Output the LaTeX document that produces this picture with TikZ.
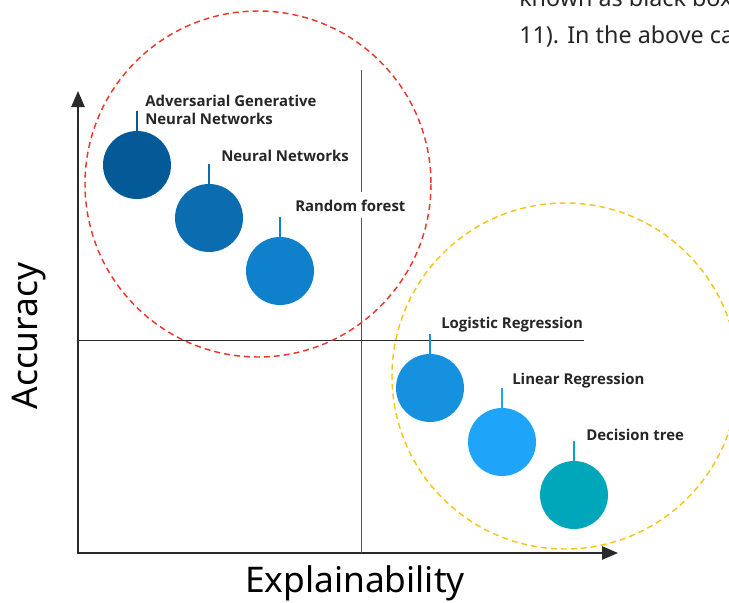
\documentclass[tikz,border=0pt]{standalone}
\usepackage{fontspec}
\setmainfont{Noto Sans}
\newfontfamily\labelfont{Open Sans}
\usetikzlibrary{arrows.meta}

\definecolor{ModelA}{HTML}{045A96}
\definecolor{ModelB}{HTML}{0B6CB0}
\definecolor{ModelC}{HTML}{0F80CC}
\definecolor{ModelD}{HTML}{1691E0}
\definecolor{ModelE}{HTML}{1EA4F8}
\definecolor{ModelF}{HTML}{00A6BA}
\definecolor{GroupRed}{HTML}{E8382B}
\definecolor{GroupYellow}{HTML}{F5C518}
\definecolor{AxisGray}{HTML}{2A2A2A}
\definecolor{SplitGray}{HTML}{555555}

\tikzset{
	bubble/.style={circle, minimum size=51pt, inner sep=0pt},
	stem/.style={line width=1.4pt},
	modellabel/.style={anchor=base west, inner sep=0pt, align=left,
		font=\labelfont\bfseries\fontsize{11.2}{13.5}\selectfont, text=black!85},
	grouping/.style={line width=1.1pt, dash pattern=on 4.5pt off 3pt},
}

\begin{document}
\begin{tikzpicture}
	[x=0.75pt, y=-0.75pt, >={Triangle[length=12pt, width=10pt]}]

	\useasboundingbox (0,0) rectangle (729,603);
	\clip (0,0) rectangle (729,603);

	% page text around the figure
	\begin{scope}[every node/.style={anchor=base west, inner sep=0pt,
			font=\fontsize{17.5}{22}\selectfont, text=black!85}]
		\node (pageA) at (519,7) {known as black box};
		\node (pageB) at (519,43) {11). In the above case};
	\end{scope}

	% coordinate system
	\begin{scope}[draw=AxisGray]
		% axes
		\begin{scope}[->, line width=1.2pt]
			\coordinate (origin) at (78,553);
			\coordinate (ytip) at (78,91);
			\coordinate (xtip) at (618,553);
			\draw (78,554) -- (ytip); % y
			\draw (origin) -- (xtip); % x
		\end{scope}

		% quadrant lines
		\begin{scope}[line width=0.7pt, draw=SplitGray]
			\coordinate (vtop) at (361,70);
			\coordinate (vbot) at (361,553);
			\coordinate (hleft) at (78,340);
			\coordinate (hright) at (584,340);
			\draw (vtop) -- (vbot);
			\draw[AxisGray] (hleft) -- (hright);
		\end{scope}

		% axis labels
		\begin{scope}[font=\fontsize{26.5}{30}\selectfont]
			\node[rotate=90] (ylabel) at (29,336) {Accuracy};
			\node (xlabel) at (355,583) {Explainability};
		\end{scope}
	\end{scope}

	% groups
	\begin{scope}[grouping]
		\draw[GroupRed] (258,184) circle (173);
		\draw[GroupYellow] (565,376) circle (173);
	\end{scope}

	% models
	\begin{scope}
		\foreach \name/\x/\y/\col in {agnn/137/165/ModelA, nn/209/218/ModelB,
				rf/280/271/ModelC, logr/430/388/ModelD, linr/502/442/ModelE,
				dt/574/495/ModelF} {
			\node[bubble, fill=\col] (\name) at (\x,\y) {};
			\coordinate (\name top) at (\x,\y-54);
			\draw[stem, \col] (\name.north) -- (\name top);
		}

		% labels
		\node[modellabel] (agnnlabel) at (145,124) {Adversarial Generative\\Neural Networks};
		\node[modellabel] (nnlabel) at (221,161) {Neural Networks};
		\node[modellabel, fill=white, inner ysep=5.5pt] (rflabel) at (295,211) {Random forest};
		\node[modellabel] (logrlabel) at (441,328) {Logistic Regression};
		\node[modellabel] (linrlabel) at (512,384) {Linear Regression};
		\node[modellabel] (dtlabel) at (586,440) {Decision tree};
	\end{scope}

\end{tikzpicture}
\end{document}
